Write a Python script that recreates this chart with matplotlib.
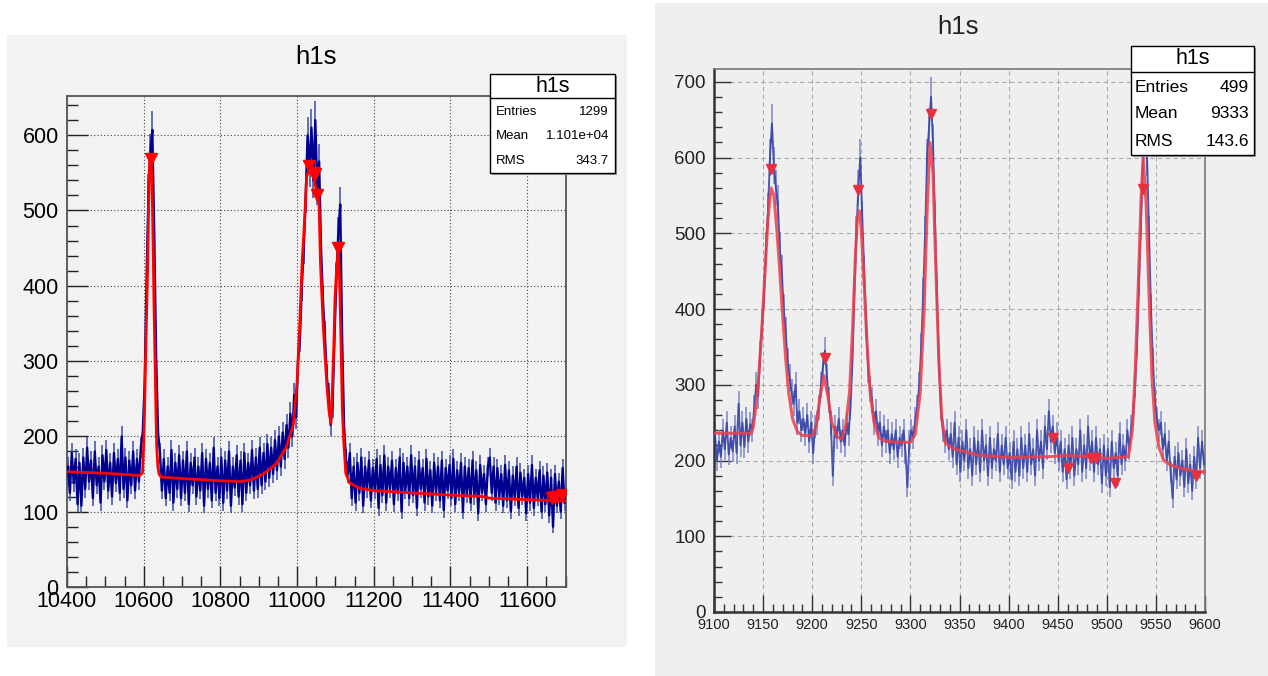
import numpy as np
import matplotlib
matplotlib.use('Agg')
import matplotlib.pyplot as plt
from matplotlib.patches import Rectangle
from matplotlib.lines import Line2D
from matplotlib.ticker import MultipleLocator

plt.rcParams['font.family'] = ['Liberation Sans', 'DejaVu Sans']

W, H = 1268, 676

# ---------------- LEFT PANEL DATA ----------------
left_start = 10400
left_step = 5
left_counts = [
    160, 125, 178, 138, 170, 110, 165, 108, 172, 130,
    185, 140, 168, 118, 180, 135, 160, 112, 175, 140,
    182, 128, 165, 120, 178, 138, 170, 125, 200, 130,
    172, 115, 168, 135, 180, 128, 170, 140, 185, 205,
    270, 410, 525, 578, 607, 470, 305, 205, 178, 128,
    170, 118, 160, 125, 182, 112, 165, 130, 175, 118,
    168, 125, 180, 110, 165, 135, 172, 120, 160, 128,
    178, 108, 170, 130, 165, 115, 185, 125, 160, 118,
    172, 112, 168, 128, 180, 108, 160, 132, 175, 120,
    168, 110, 178, 125, 165, 135, 182, 128, 172, 130,
    185, 135, 178, 140, 190, 145, 185, 150, 195, 155,
    200, 160, 205, 170, 215, 185, 230, 200, 255, 225,
    300, 330, 400, 450, 520, 600, 555, 610, 540, 620,
    530, 565, 450, 380, 335, 280, 255, 215, 240, 330,
    410, 470, 508, 330, 215, 170, 150, 178, 118, 160,
    112, 165, 125, 172, 108, 160, 130, 168, 115, 158,
    128, 170, 105, 162, 122, 175, 112, 160, 130, 168,
    110, 158, 125, 172, 100, 165, 128, 160, 118, 175,
    122, 160, 105, 168, 130, 158, 112, 170, 120, 155,
    108, 165, 125, 160, 115, 168, 102, 158, 128, 162,
    118, 170, 110, 155, 125, 165, 100, 160, 122, 158,
    112, 168, 120, 155, 98, 162, 125, 150, 110, 160,
    172, 125, 160, 112, 158, 120, 150, 108, 162, 115,
    155, 100, 148, 118, 160, 105, 152, 120, 145, 98,
    150, 112, 162, 105, 145, 118, 155, 100, 148, 110,
    152, 95, 145, 80, 150, 108, 140, 100, 158, 112,
]
left_fit_x = [10400, 10500, 10590, 10597, 10600, 10602, 10606, 10610, 10612, 10614,
              10616, 10619, 10621, 10623, 10625, 10627, 10630, 10632, 10634, 10637,
              10640, 10645, 10700, 10800, 10850, 10877, 10900, 10920, 10946, 10972,
              10990, 11000, 11007, 11013, 11020, 11025, 11031, 11042, 11050, 11057,
              11061, 11064, 11068, 11073, 11078, 11083, 11088, 11092, 11096, 11099,
              11104, 11108, 11111, 11115, 11118, 11122, 11127, 11137, 11163, 11200,
              11300, 11400, 11490, 11500, 11600, 11700]
left_fit_y = [153, 151, 148, 152, 190, 230, 330, 415, 480, 545,
              568, 572, 545, 500, 440, 370, 290, 230, 185, 160,
              150, 146, 144, 141, 140, 142, 147, 153, 164, 186,
              215, 272, 350, 430, 491, 545, 553, 549, 527, 514,
              430, 394, 350, 306, 266, 235, 217, 261, 324, 385,
              430, 452, 403, 315, 235, 191, 151, 138, 131, 128,
              125, 122, 120, 118, 116, 114]
left_peak_x = [10618, 11031, 11041, 11046, 11052, 11108, 11666, 11673, 11690]
left_peak_y = [568, 559, 550, 548, 521, 450, 118, 119, 122]

# ---------------- RIGHT PANEL DATA ----------------
right_start = 9100
right_step = 2
right_counts = [
    235, 200, 225, 205, 240, 215, 250, 208, 230, 212,
    245, 210, 275, 220, 250, 218, 255, 225, 248, 240,
    270, 300, 285, 340, 380, 420, 480, 530, 600, 645,
    590, 560, 540, 480, 450, 400, 370, 330, 310, 290,
    275, 300, 250, 265, 240, 255, 235, 260, 225, 250,
    210, 245, 250, 270, 300, 325, 345, 310, 280, 250,
    180, 245, 230, 255, 225, 240, 220, 250, 235, 270,
    330, 420, 500, 560, 600, 520, 450, 380, 320, 295,
    280, 250, 265, 235, 250, 220, 245, 225, 240, 210,
    235, 215, 240, 205, 230, 220, 240, 210, 165, 225,
    240, 230, 255, 270, 300, 350, 420, 500, 600, 640,
    680, 620, 520, 420, 330, 270, 240, 225, 240, 215,
    235, 205, 250, 195, 230, 185, 225, 200, 240, 190,
    215, 180, 230, 195, 225, 185, 240, 200, 220, 180,
    230, 190, 215, 200, 235, 185, 220, 195, 230, 190,
    210, 175, 225, 185, 215, 180, 230, 190, 220, 185,
    235, 195, 215, 180, 240, 200, 225, 190, 245, 215,
    265, 225, 245, 210, 235, 200, 225, 185, 215, 175,
    220, 190, 230, 180, 215, 195, 240, 185, 220, 190,
    245, 200, 225, 185, 230, 195, 215, 170, 220, 180,
    215, 165, 225, 190, 210, 180, 235, 195, 220, 200,
    240, 215, 245, 260, 300, 360, 440, 520, 600, 690,
    600, 500, 400, 330, 280, 255, 240, 250, 215, 235,
    200, 225, 185, 150, 205, 175, 210, 180, 200, 165,
    215, 170, 195, 160, 205, 175, 230, 190, 225, 195,
]
right_fit_x = [9100, 9138, 9140, 9143, 9146, 9149, 9152, 9155, 9158, 9161,
               9164, 9167, 9170, 9173, 9176, 9180, 9185, 9190, 9200, 9204,
               9208, 9212, 9216, 9220, 9225, 9230, 9234, 9238, 9241, 9244,
               9246, 9248, 9250, 9253, 9256, 9259, 9263, 9268, 9275, 9300,
               9305, 9310, 9314, 9317, 9320, 9323, 9326, 9329, 9332, 9336,
               9345, 9370, 9400, 9440, 9460, 9480, 9500, 9522, 9526, 9529,
               9532, 9535, 9537, 9540, 9543, 9546, 9549, 9553, 9558, 9565,
               9575, 9590, 9600]
right_fit_y = [236, 236, 245, 275, 320, 380, 450, 520, 560, 550,
               505, 450, 390, 335, 290, 255, 238, 233, 233, 245,
               285, 312, 285, 250, 232, 228, 245, 290, 370, 470,
               520, 530, 505, 430, 350, 290, 250, 230, 225, 224,
               235, 290, 400, 530, 620, 580, 450, 330, 255, 222,
               215, 207, 204, 205, 207, 205, 203, 205, 240, 320,
               430, 550, 600, 540, 420, 310, 250, 218, 200, 194,
               190, 186, 185]
right_peak_x = [9158, 9213, 9247, 9321, 9537, 9445, 9460, 9484, 9489, 9508, 9591]
right_peak_y = [585, 335, 557, 657, 558, 230, 190, 203, 203, 170, 180]

left_stats = [("Entries", "1299"), ("Mean", "1.101e+04"), ("RMS", "343.7")]
right_stats = [("Entries", "499"), ("Mean", "9333"), ("RMS", "143.6")]

# ---------------- FIGURE ----------------
fig = plt.figure(figsize=(W / 100, H / 100), dpi=100)
fig.patch.set_facecolor('white')


def fx(px):
    return px / W


def fy(py):
    return 1 - py / H


def prect(x0, y0, x1, y1, **kw):
    r = Rectangle((fx(x0), fy(y1)), (x1 - x0) / W, (y1 - y0) / H,
                  transform=fig.transFigure, **kw)
    fig.add_artist(r)
    return r


# panel backgrounds
prect(7, 35, 627, 647, facecolor='#f2f2f2', edgecolor='none', zorder=0)
prect(655, 3, 1268, 676, facecolor='#efefef', edgecolor='none', zorder=0)


def make_axes(px0, py0, px1, py1, face):
    ax = fig.add_axes([fx(px0), fy(py1), (px1 - px0) / W, (py1 - py0) / H])
    ax.set_facecolor(face)
    return ax


# ---- left ----
axL = make_axes(67, 96, 565.5, 587, '#f2f2f2')
lx = left_start + left_step * np.arange(len(left_counts)) + left_step / 2
ly = np.array(left_counts, dtype=float)
axL.errorbar(lx, ly, yerr=np.sqrt(ly), fmt='none', ecolor='#3d4eaa',
             elinewidth=1.4, alpha=0.8, zorder=2)
axL.plot(lx, ly, color='#000090', lw=1.7, zorder=3)
axL.plot(left_fit_x, left_fit_y, color='#ff0000', lw=2.0, zorder=4)
axL.plot(left_peak_x, left_peak_y, linestyle='none', marker='v', color='#ff0000',
         markersize=9, zorder=5)
axL.set_xlim(10400, 11700)
axL.set_ylim(0, 652)
axL.xaxis.set_major_locator(MultipleLocator(200))
axL.xaxis.set_minor_locator(MultipleLocator(50))
axL.yaxis.set_major_locator(MultipleLocator(100))
axL.yaxis.set_minor_locator(MultipleLocator(20))
axL.tick_params(which='both', direction='in', top=False, right=False,
                colors='#222222', labelcolor='black')
axL.tick_params(which='major', length=15, width=1.0, labelsize=15.5)
axL.tick_params(which='minor', length=8, width=1.0)
axL.tick_params(axis='x', which='major', pad=3)
axL.tick_params(axis='y', which='major', pad=6)
axL.grid(True, which='major', linestyle=(0, (1, 2)), color='#444444', lw=0.8)
axL.set_axisbelow(True)
for s in axL.spines.values():
    s.set_color('#555555')
    s.set_linewidth(1.3)

fig.text(fx(316), fy(57), "h1s", fontsize=18.5, ha='center', va='center')

# ---- right ----
axR = make_axes(714, 69, 1205, 612, '#efefef')
rx = right_start + right_step * np.arange(len(right_counts)) + right_step / 2
ry = np.array(right_counts, dtype=float)
axR.errorbar(rx, ry, yerr=np.sqrt(ry), fmt='none', ecolor='#7480c8',
             elinewidth=1.4, alpha=0.75, zorder=2)
axR.plot(rx, ry, color='#2f3fa5', lw=1.4, alpha=0.85, zorder=3)
axR.plot(right_fit_x, right_fit_y, color='#ec3f4c', lw=2.2, alpha=0.85, zorder=4)
axR.plot(right_peak_x, right_peak_y, linestyle='none', marker='v', color='#e8303c',
         markersize=6.5, zorder=5)
axR.set_xlim(9100, 9600)
axR.set_ylim(0, 717)
axR.xaxis.set_major_locator(MultipleLocator(50))
axR.xaxis.set_minor_locator(MultipleLocator(10))
axR.yaxis.set_major_locator(MultipleLocator(100))
axR.yaxis.set_minor_locator(MultipleLocator(20))
axR.tick_params(which='both', direction='in', top=False, right=False,
                colors='#333333', labelcolor='#222222')
axR.tick_params(which='major', length=12, width=1.0)
axR.tick_params(which='minor', length=6, width=1.0)
axR.tick_params(axis='x', which='major', labelsize=10.5, pad=4)
axR.tick_params(axis='y', which='major', labelsize=13.5, pad=6)
axR.grid(True, which='major', linestyle=(0, (4, 3)), color='#aaaaaa', lw=0.8)
axR.set_axisbelow(True)
for k, s in axR.spines.items():
    s.set_color('#333333' if k in ('left', 'bottom') else '#777777')
    s.set_linewidth(1.8 if k in ('left', 'bottom') else 1.2)

fig.text(fx(958), fy(27), "h1s", fontsize=18.5, ha='center', va='center', color='#222222')


# ---- stats boxes ----
def stats_box(x0, y0, x1, y1, ydiv, title, rows, title_fs, fs, lab_x, val_x, row_ys):
    prect(x0 + 2, y0 + 2, x1 + 2, y1 + 2, facecolor='#9a9a9a', edgecolor='none', zorder=9)
    prect(x0, y0, x1, y1, facecolor='white', edgecolor='black', lw=1.0, zorder=10)
    fig.add_artist(Line2D([fx(x0), fx(x1)], [fy(ydiv), fy(ydiv)], color='black', lw=1.0,
                          transform=fig.transFigure, zorder=11))
    fig.text(fx((x0 + x1) / 2), fy((y0 + ydiv) / 2), title, fontsize=title_fs,
             ha='center', va='center', zorder=12)
    for (lab, val), yy in zip(rows, row_ys):
        fig.text(fx(lab_x), fy(yy), lab, fontsize=fs, ha='left', va='center', zorder=12)
        fig.text(fx(val_x), fy(yy), val, fontsize=fs, ha='right', va='center', zorder=12)


stats_box(490, 74, 615, 173, 98, "h1s", left_stats, 15.5, 9.5, 496, 609,
          [112, 136, 161])
stats_box(1131, 46, 1254, 155, 72, "h1s", right_stats, 15.5, 12.5, 1135, 1249,
          [88, 114, 141])

fig.savefig('out.png', dpi=100, facecolor='white')
